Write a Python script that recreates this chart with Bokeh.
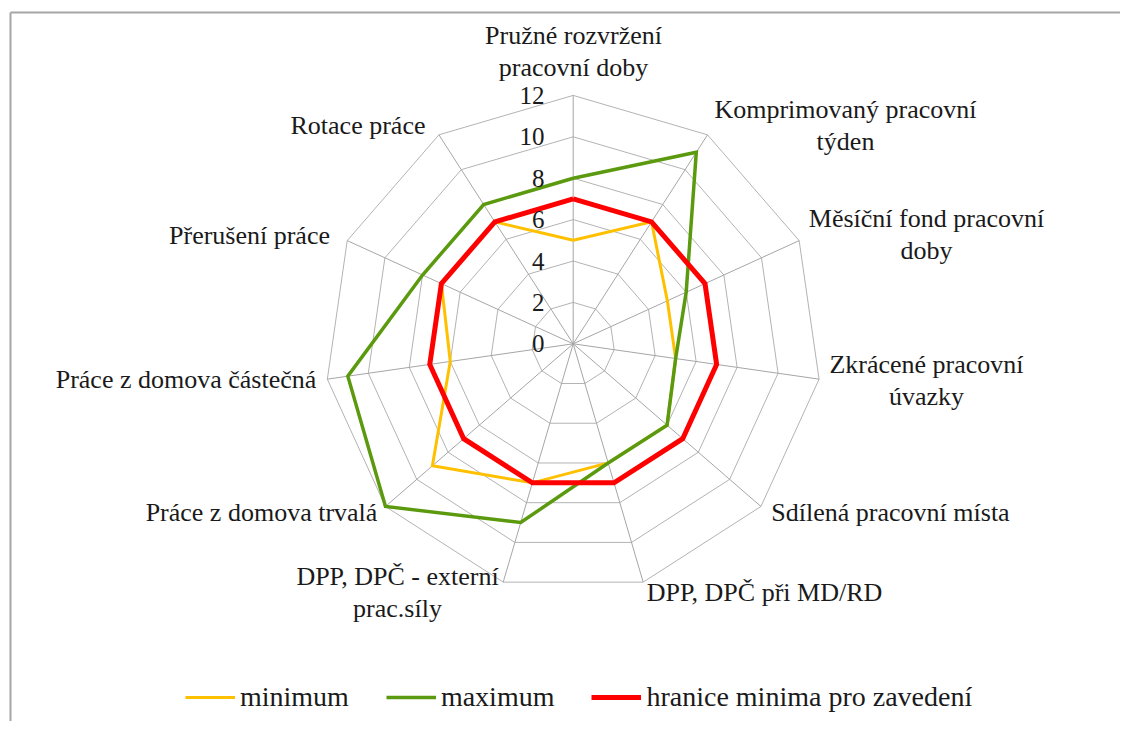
import math
from bokeh.plotting import figure
from bokeh.models import Range1d, Legend, LegendItem, CustomJS
from bokeh.embed import file_html
from bokeh.resources import INLINE
from bokeh.core.properties import value

# ---------------- data ----------------
categories = [
    "Pružné rozvržení\npracovní doby",
    "Komprimovaný pracovní\ntýden",
    "Měsíční fond pracovní\ndoby",
    "Zkrácené pracovní\núvazky",
    "Sdílená pracovní místa",
    "DPP, DPČ při MD/RD",
    "DPP, DPČ - externí\nprac.síly",
    "Práce z domova trvalá",
    "Práce z domova částečná",
    "Přerušení práce",
    "Rotace práce",
]
minimum = [5, 7, 5, 5, 6, 6, 7, 9, 6, 7, 7]
maximum = [8, 11, 6, 5, 6, 6, 9, 12, 11, 8, 8]
hranice = [7, 7, 7, 7, 7, 7, 7, 7, 7, 7, 7]
tick_values = [0, 2, 4, 6, 8, 10, 12]
tick_labels = ["0", "2", "4", "6", "8", "10", "12"]
series_names = ["minimum", "maximum", "hranice minima pro zavedení"]

# ---------------- layout (screen pixels) ----------------
OFF = 0                    # page offset of the figure
W, H = 1120, 721
CX, CY = 572.7, 343.3      # radar centre on the page
PX = 20.7                  # pixels per value unit
# label anchor points on the page (centre of text block)
label_pos = [(573, 51), (845, 125), (926, 234), (926, 380), (890, 512),
             (764, 592), (397, 592), (261, 512), (185.5, 379), (249, 235),
             (357.5, 125)]
FONT = "Liberation Serif"

def to_data(sx, sy):
    return (sx - CX) / PX, (CY - sy) / PX

x0, y1 = to_data(OFF, OFF)
x1, y0 = to_data(OFF + W, OFF + H)

p = figure(width=W, height=H, x_range=Range1d(x0, x1), y_range=Range1d(y0, y1),
           output_backend="svg", toolbar_location=None, min_border=0)
p.axis.visible = False
p.grid.visible = False
p.outline_line_color = None
p.background_fill_color = "white"
p.border_fill_color = "white"

n = len(categories)
angles = [math.pi / 2 - 2 * math.pi * i / n for i in range(n)]

# frame (left and top edges of chart area)
bx, by = to_data(10, 12)
p.segment(x0=[bx, bx], y0=[by, by], x1=[x1 + 1, bx], y1=[by, y0 - 1],
          line_color="#a6a6a6", line_width=2)

# grid rings
ring_xs, ring_ys = [], []
for v in tick_values[1:]:
    ring_xs.append([v * math.cos(a) for a in angles] + [v * math.cos(angles[0])])
    ring_ys.append([v * math.sin(a) for a in angles] + [v * math.sin(angles[0])])
p.multi_line(ring_xs, ring_ys, line_color="#b3b3b3", line_width=1)

# spokes
vmax = tick_values[-1]
p.segment(x0=[0] * n, y0=[0] * n,
          x1=[vmax * math.cos(a) for a in angles],
          y1=[vmax * math.sin(a) for a in angles],
          line_color="#a6a6a6", line_width=1)

# series
def closed(vals):
    xs = [v * math.cos(a) for v, a in zip(vals, angles)]
    ys = [v * math.sin(a) for v, a in zip(vals, angles)]
    return xs + xs[:1], ys + ys[:1]

colors = ["#FFC000", "#5B9A0E", "#FF0000"]
widths = [3, 3.5, 5]
renderers = []
for vals, c, w in zip([minimum, maximum, hranice], colors, widths):
    xs, ys = closed(vals)
    r = p.line(xs, ys, line_color=c, line_width=w, line_join="miter")
    renderers.append(r)

# tick labels along top spoke
tx = (544 - CX) / PX
tick_r = p.text(x=[tx] * len(tick_values), y=tick_values, text=tick_labels,
                text_align="right", text_baseline="middle",
                text_font=value(FONT), text_font_size="25px",
                text_color="#1a1a1a")

# category labels
lx = [to_data(*lp)[0] for lp in label_pos]
ly = [to_data(*lp)[1] for lp in label_pos]
cat_r = p.text(x=lx, y=ly, text=categories, text_align="center", text_baseline="middle",
               text_font=value(FONT), text_font_size="26px",
               text_line_height=1.08, text_color="#1a1a1a")

# legend
legend = Legend(items=[LegendItem(label=nm, renderers=[r]) for nm, r in zip(series_names, renderers)],
                orientation="horizontal", location=(185, 8),
                glyph_width=50, glyph_height=20, label_standoff=5, spacing=37,
                padding=0, margin=0, border_line_color=None,
                background_fill_alpha=0,
                label_text_font=FONT,
                label_text_font_size="28px",
                label_text_color="#1a1a1a", label_height=28)
p.add_layout(legend, "center")

# repaint once the serif font is available (avoids a fallback-font first paint)
fix = CustomJS(args=dict(gl=[tick_r.glyph, cat_r.glyph], lg=legend, xr=p.x_range), code="""
if (window.__fontfix) { return; }
window.__fontfix = true;
const fs = ["25px 'Liberation Serif'", "26px 'Liberation Serif'", "28px 'Liberation Serif'"];
Promise.all(fs.map((f) => document.fonts.load(f))).then(() => {
  setTimeout(() => {
    for (const g of gl) { g.text_alpha = 0.99; g.text_alpha = 1.0; }
    lg.label_text_alpha = 0.99; lg.label_text_alpha = 1.0;
    xr.start = xr.start + 1e-9;
  }, 0);
});
""")
p.js_on_change("inner_width", fix)
p.js_on_change("inner_height", fix)

open("out.html", "w").write(file_html(p, INLINE))
